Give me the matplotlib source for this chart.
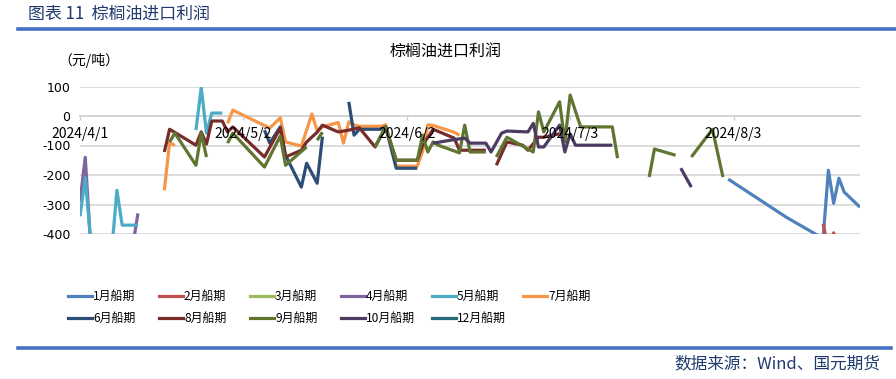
import matplotlib
matplotlib.use('Agg')
import matplotlib.pyplot as plt
from matplotlib.lines import Line2D
import numpy as np
import pandas as pd

plt.rcParams['font.family'] = ['Noto Sans CJK SC', 'DejaVu Sans']
plt.rcParams['axes.unicode_minus'] = False

YEAR = '2024-'

# ---------------- data (元/吨) ----------------
jan_dates = ['08-02', '08-13', '08-20', '08-21', '08-22', '08-23', '08-24', '08-27']
jan_vals = [-214, -343, -415, -184, -296, -211, -258, -309]

feb_dates = ['08-20', '08-21', '08-22', '08-23']
feb_vals = [-365, -450, -396, -450]

mar_dates = []
mar_vals = []

apr_dates = ['04-01', '04-02', '04-03', '04-08', '04-11', '04-12']
apr_vals = [-290, -140, -430, None, -440, -330]

may_dates = ['04-01', '04-02', '04-03', '04-07', '04-08', '04-09', '04-12', '04-15',
             '04-23', '04-24', '04-25', '04-26', '04-28']
may_vals = [-340, -210, -420, -460, -252, -370, -370, None,
            -48, 96, -58, 10, 10]

jul_dates = ['04-17', '04-18', '04-19', '04-22',
             '04-29', '04-30', '05-07', '05-09', '05-10', '05-13', '05-15', '05-16', '05-17',
             '05-20', '05-21', '05-22', '05-23', '05-24', '05-27', '05-28', '05-29', '05-31',
             '06-03', '06-04', '06-05', '06-06', '06-07', '06-11', '06-12']
jul_vals = [-252, -90, -100, None,
            -25, 20, -41, -6, -88, -102, 7, -50, -37,
            -22, -92, -20, -30, -35, -35, -35, -30, -170,
            -170, -170, -120, -30, -32, -55, -65]

jun_dates = ['05-06', '05-07', '05-09', '05-10', '05-13', '05-14', '05-16', '05-17',
             '05-20', '05-22', '05-23', '05-24', '05-27', '05-28', '05-29', '05-31',
             '06-03', '06-04']
jun_vals = [-48, -92, -37, -133, -241, -160, -228, -70,
            None, 48, -65, -45, -45, -45, -37, -177,
            -177, -177]

aug_dates = ['04-17', '04-18', '04-23', '04-24', '04-25', '04-26', '04-28', '04-29', '04-30',
             '05-06', '05-09', '05-10', '05-13', '05-14', '05-16', '05-17', '05-20', '05-22',
             '05-24', '05-27', '05-29', '05-31', '06-03', '06-04', '06-05', '06-07', '06-11',
             '06-12', '06-13', '06-14', '06-17', '06-18',
             '06-19', '06-21', '06-24', '06-25', '06-27', '06-28', '07-01']
aug_vals = [-122, -45, -99, -54, -95, -17, -17, -54, -37,
            -139, -41, -139, -116, -88, -55, -31, -54, -48,
            -40, -105, -37, -150, -150, -150, -100, -45, -75,
            -116, -116, -116, -116, None,
            -167, -88, -99, -116, -72, -72, -60]

sep_dates = ['04-18', '04-19', '04-23', '04-24', '04-25', '04-26',
             '04-29', '04-30', '05-06', '05-09', '05-10', '05-14', '05-15',
             '05-16', '05-17', '05-20',
             '05-27', '05-29', '05-31', '06-03', '06-04', '06-05', '06-06', '06-07', '06-08',
             '06-12', '06-13', '06-14', '06-17', '06-18',
             '06-19', '06-21', '06-26', '06-27', '06-28', '07-01', '07-02', '07-03', '07-05',
             '07-11', '07-12', '07-15',
             '07-18', '07-19', '07-23', '07-24',
             '07-26', '07-30', '08-01']
sep_vals = [-88, -58, -167, -58, -139, None,
            -92, -58, -173, -68, -167, -105, None,
            -82, -55, None,
            -105, -37, -150, -150, -150, -65, -122, -88, -99,
            -125, -31, -122, -122, None,
            -139, -72, -122, 14, -54, 48, -88, 71, -37,
            -37, -143, None,
            -207, -112, -133, None,
            -139, -45, -207]

oct_dates = ['06-07', '06-11', '06-13', '06-14', '06-17', '06-18', '06-20', '06-21', '06-25',
             '06-26', '06-27', '06-28', '07-01', '07-02', '07-03', '07-04', '07-11', '07-15',
             '07-24', '07-26']
oct_vals = [-92, -80, -75, -92, -92, -122, -58, -51, -54,
            -25, -105, -105, -31, -122, -60, -99, -99, None,
            -177, -241]

dec_dates = []
dec_vals = []

series_names = ['1月船期', '2月船期', '3月船期', '4月船期', '5月船期', '7月船期',
                '6月船期', '8月船期', '9月船期', '10月船期', '12月船期']
series_colors = ['#4F81BD', '#C0504D', '#9BBB59', '#8064A2', '#4BACC6', '#F79646',
                 '#2C4D75', '#772C2A', '#5F7530', '#4D3B62', '#276A7C']
series_dates = [jan_dates, feb_dates, mar_dates, apr_dates, may_dates, jul_dates,
                jun_dates, aug_dates, sep_dates, oct_dates, dec_dates]
series_vals = [jan_vals, feb_vals, mar_vals, apr_vals, may_vals, jul_vals,
               jun_vals, aug_vals, sep_vals, oct_vals, dec_vals]

y_ticks = [100, 0, -100, -200, -300, -400]
x_tick_dates = ['2024-04-01', '2024-05-02', '2024-06-02', '2024-07-03', '2024-08-03']
x_tick_labels = ['2024/4/1', '2024/5/2', '2024/6/2', '2024/7/3', '2024/8/3']

# ---------------- figure ----------------
W, H = 896, 379
fig = plt.figure(figsize=(W / 100, H / 100), dpi=100)
fig.patch.set_facecolor('white')

ax = fig.add_axes([80 / W, 1 - 234 / H, 780 / W, (234 - 86.5) / H])

for t in y_ticks:
    if t != 0:
        ax.axhline(t, color='#D9D9D9', lw=1.3, zorder=0)

for name, col, d, v in zip(series_names, series_colors, series_dates, series_vals):
    x = pd.to_datetime([YEAR + s for s in d]) if d else pd.to_datetime([])
    y = np.array(v, dtype=float)
    ax.plot(x, y, color=col, lw=2.3, solid_joinstyle='round', solid_capstyle='butt',
            label=name, zorder=2)

ax.set_ylim(-400, 100)
ax.set_xlim(pd.Timestamp('2024-04-01'), pd.Timestamp('2024-08-27'))
ax.set_yticks(y_ticks)
ax.set_yticklabels([str(t) for t in y_ticks], family='DejaVu Sans', fontsize=9)
ax.set_xticks(pd.to_datetime(x_tick_dates))
ax.set_xticklabels(x_tick_labels, family='DejaVu Sans', fontsize=9.2)

for s in ['top', 'right', 'left']:
    ax.spines[s].set_visible(False)
ax.spines['bottom'].set_position(('data', 0))
ax.spines['bottom'].set_color('#D0D0D0')
ax.spines['bottom'].set_linewidth(1.3)
ax.spines['bottom'].set_zorder(0.5)
ax.xaxis.set_zorder(5)
ax.tick_params(axis='y', length=0, pad=7, colors='black')
ax.tick_params(axis='x', length=3, width=1, color='#D0D0D0', direction='out', pad=5)

# titles
fig.text(446 / W, 1 - 52 / H, '棕榈油进口利润', ha='center', va='center', fontsize=11.5, color='black')
fig.text(58 / W, 1 - 61 / H, '（元/吨）', ha='left', va='center', fontsize=10, color='black')

# header & footer
fig.text(28 / W, 1 - 14 / H, '图表 11  棕榈油进口利润', ha='left', va='center', fontsize=12.2, color='#1F3A6E')
fig.add_artist(Line2D([18 / W, 1.0], [1 - 28.5 / H] * 2, color='#4472C4', lw=2.6))
fig.add_artist(Line2D([18 / W, 891 / W], [1 - 347.5 / H] * 2, color='#4472C4', lw=2.6))
fig.text(880 / W, 1 - 364 / H, '数据来源：Wind、国元期货', ha='right', va='center', fontsize=12, color='#1F3A6E')

# legend
for i, (name, col) in enumerate(zip(series_names, series_colors)):
    row, c = divmod(i, 6)
    x0 = 68 + c * 91
    y0 = 296 + row * 22
    fig.add_artist(Line2D([x0 / W, (x0 + 24) / W], [1 - y0 / H] * 2, color=col, lw=2.3))
    fig.text((x0 + 25) / W, 1 - y0 / H, name, ha='left', va='center', fontsize=8.6, color='black')

fig.savefig('out.png', dpi=100, facecolor='white')
